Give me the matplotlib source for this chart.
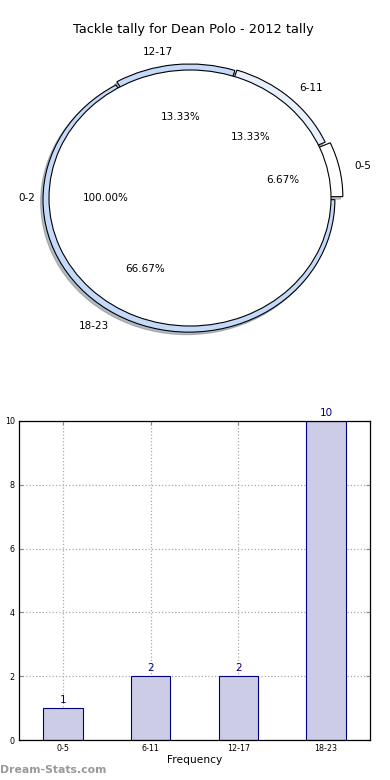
import matplotlib
matplotlib.use('Agg')
import matplotlib.pyplot as plt

# data
slots = ['0-5', '6-11', '12-17', '18-23']
tackles = [1, 2, 2, 10]
inner_label = ['0-2']
inner_val = [1]

ring_colors = ['white', '#e8f0fc', '#c4daf8', '#c4daf8']
ring_explode = [0.05, 0.02, 0.012, 0.015]

fig = plt.figure(figsize=(3.9, 7.8), dpi=100, facecolor='white')

# ---- pie (top) ----
shadow = {'ox': -0.012, 'oy': -0.014, 'shade': 0.45}
axp = fig.add_axes([6.7/390, 415.6/780, 366.6/390, 332.8/780])
axp.pie(tackles, labels=slots, colors=ring_colors, explode=ring_explode,
        radius=1.035, autopct='%.2f%%', shadow=shadow, startangle=0,
        wedgeprops={'edgecolor': 'black', 'linewidth': 0.8},
        textprops={'fontsize': 7.5})
axp.pie(inner_val, labels=inner_label, colors=['white'], radius=1.0,
        autopct='%.2f%%', shadow=False, startangle=0,
        wedgeprops={'edgecolor': 'black', 'linewidth': 0.8},
        textprops={'fontsize': 7.5})
axp.set_aspect('auto')
axp.set_xlim(-1.3, 1.3)
axp.set_ylim(-1.3, 1.3)
fig.text(0.497, 1 - 30/780, 'Tackle tally for Dean Polo - 2012 tally',
         ha='center', va='center', fontsize=9.3)

# ---- bars (bottom) ----
axb = fig.add_axes([19/390, 40/780, 351/390, 319/780])
x = range(len(slots))
axb.bar(x, tackles, width=0.45, color='#ccccE6', edgecolor='#000080',
        linewidth=0.8, zorder=2)
for i, v in zip(x, tackles):
    axb.text(i, v + 0.1, str(v), ha='center', va='bottom',
             color='#000080', fontsize=7.5)
axb.set_xlim(-0.5, 3.5)
axb.set_ylim(0, 10)
axb.set_xticks(list(x))
axb.set_xticklabels(slots)
axb.set_yticks([0, 2, 4, 6, 8, 10])
axb.tick_params(direction='in', top=True, right=True, labelsize=5.8,
                length=3, color='#888888', pad=3)
axb.grid(True, linestyle=':', color='#aaaaaa', linewidth=0.9, zorder=0)
axb.set_axisbelow(True)
for s in axb.spines.values():
    s.set_color('black')
    s.set_linewidth(0.9)
axb.set_xlabel('Frequency', fontsize=7.7, labelpad=1)
# y label sits mostly outside the figure, as in the reference
fig.text(-0.012, (780 - 587)/780, 'Time Interval', rotation=90,
         ha='center', va='center', fontsize=7.5)

fig.text(0.0, 1 - 770/780, 'Dream-Stats.com', ha='left', va='center',
         fontsize=7.8, color='#999999', fontweight='bold')

plt.savefig('out.png', dpi=100, facecolor='white')
